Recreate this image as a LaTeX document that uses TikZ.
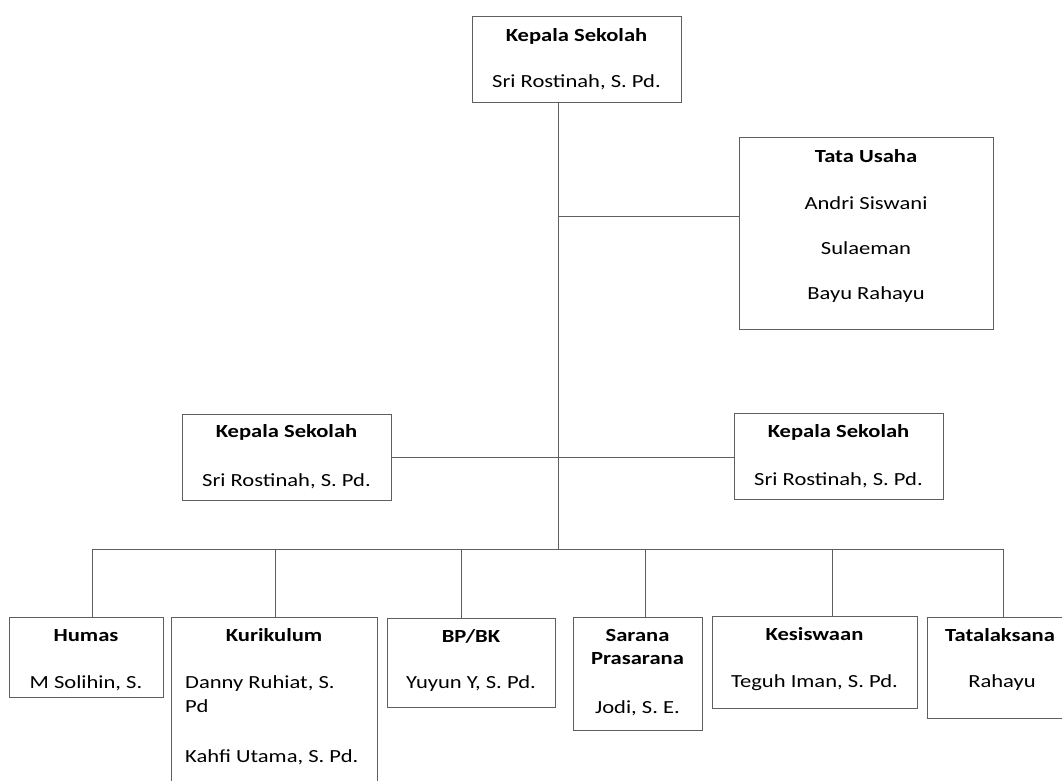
\documentclass[tikz,border=0pt]{standalone}
\usepackage{fontspec}
\setmainfont{Carlito}[FakeStretch=1.22]
\definecolor{lc}{RGB}{95,95,95}
\begin{document}
\begin{tikzpicture}[x=1pt,y=-1pt,
  box/.style={draw=lc,line width=1pt,rectangle,inner sep=0pt,outer sep=0pt},
  ttl/.style={anchor=base,inner sep=0pt,font=\fontsize{18.5}{24}\selectfont\bfseries},
  txt/.style={anchor=base,inner sep=0pt,font=\fontsize{18.5}{24}\selectfont},
  txl/.style={anchor=base west,inner sep=0pt,font=\fontsize{18.5}{24}\selectfont},
  conn/.style={draw=lc,line width=0.9pt}]
\useasboundingbox (0,0) rectangle (1062,780);
\clip (0,0) rectangle (1062,780);
\fill[white] (0,0) rectangle (1062,780);
% boxes
\node[box,minimum width=209pt,minimum height=86pt] (top) at (576.5,59) {};
\node[box,minimum width=254pt,minimum height=192pt] (tu) at (866,233) {};
\node[box,minimum width=209pt,minimum height=86pt] (kl) at (286.5,457) {};
\node[box,minimum width=209pt,minimum height=86pt] (kr) at (838.5,456) {};
\node[box,minimum width=154pt,minimum height=80pt] (humas) at (86,657) {};
\node[box,minimum width=206pt,minimum height=183pt] (kur) at (274,708.5) {};
\node[box,minimum width=168pt,minimum height=89pt] (bp) at (471,662.5) {};
\node[box,minimum width=129pt,minimum height=113pt] (sar) at (637.5,673.5) {};
\node[box,minimum width=205pt,minimum height=92pt] (kes) at (814.5,662) {};
\node[box,minimum width=148pt,minimum height=101pt] (tat) at (1001,667.5) {};
% texts
\node[ttl] (topT) at (576.5,41) {Kepala Sekolah};
\node[txt] (topN) at (576.5,87) {Sri Rostinah, S. Pd.};
\node[ttl] (tuT) at (866,162) {Tata Usaha};
\node[txt] (tuN1) at (866,209) {Andri Siswani};
\node[txt] (tuN2) at (866,254) {Sulaeman};
\node[txt] (tuN3) at (866,299) {Bayu Rahayu};
\node[ttl] (klT) at (286.5,437) {Kepala Sekolah};
\node[txt] (klN) at (286.5,486) {Sri Rostinah, S. Pd.};
\node[ttl] (krT) at (838.5,437) {Kepala Sekolah};
\node[txt] (krN) at (838.5,485) {Sri Rostinah, S. Pd.};
\node[ttl] (humasT) at (86,641) {Humas};
\node[txt] (humasN) at (86,688) {M Solihin, S.};
\node[ttl] (kurT) at (274,641) {Kurikulum};
\node[txl] (kurN1) at (185,688) {Danny Ruhiat, S.};
\node[txl] (kurN2) at (185,712) {Pd};
\node[txl] (kurN3) at (185,762) {Kahfi Utama, S. Pd.};
\node[ttl] (bpT) at (471,642) {BP/BK};
\node[txt] (bpN) at (471,688) {Yuyun Y, S. Pd.};
\node[ttl] (sarT1) at (637.5,641) {Sarana};
\node[ttl] (sarT2) at (637.5,664) {Prasarana};
\node[txt] (sarN) at (637.5,713) {Jodi, S. E.};
\node[ttl] (kesT) at (814.5,640) {Kesiswaan};
\node[txt] (kesN) at (814.5,687) {Teguh Iman, S. Pd.};
\node[ttl] (tatT) at (1000,641) {Tatalaksana};
\node[txt] (tatN) at (1002,687) {Rahayu};
% connectors
\coordinate (m0) at (558,102);
\coordinate (mtu) at (558,216);
\coordinate (mbus) at (558,549);
\coordinate (b1) at (92,549);
\coordinate (b2) at (275,549);
\coordinate (b3) at (461,549);
\coordinate (b4) at (645,549);
\coordinate (b5) at (832,549);
\coordinate (b6) at (1003,549);
\draw[conn] (m0) -- (mbus);
\draw[conn] (mtu) -- (mtu -| tu.west);
\draw[conn] (kl.east) -- (kl.east -| kr.west);
\draw[conn] (b1) -- (b6);
\draw[conn] (b1) -- (b1 |- humas.north);
\draw[conn] (b2) -- (b2 |- kur.north);
\draw[conn] (b3) -- (b3 |- bp.north);
\draw[conn] (b4) -- (b4 |- sar.north);
\draw[conn] (b5) -- (b5 |- kes.north);
\draw[conn] (b6) -- (b6 |- tat.north);
\end{tikzpicture}
\end{document}
